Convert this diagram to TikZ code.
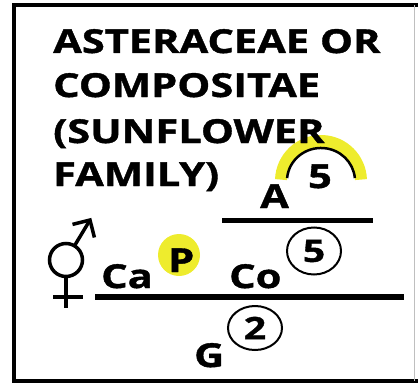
\documentclass[tikz,border=0pt]{standalone}
\usepackage{fontspec}
\setmainfont{Open Sans}[FakeStretch=1.26, FakeBold=1.2]
\usetikzlibrary{shapes.geometric}
\definecolor{hl}{RGB}{238,236,45}
\begin{document}
\begin{tikzpicture}[x=1pt,y=1pt,
  titletext/.style={font=\fontsize{33}{40}\selectfont\bfseries, anchor=base west, inner sep=0pt},
  ftext/.style={font=\fontsize{33}{40}\selectfont\bfseries, anchor=base west, inner sep=0pt},
  circnum/.style={ellipse, draw, line width=2pt, inner sep=0pt, font=\fontsize{31}{36}\selectfont\bfseries},
  fracbar/.style={line width=5pt},
  symb/.style={line width=3.5pt}
]
\useasboundingbox (0,0) rectangle (419,-385);
% frame
\draw[line width=4pt] (418,-5) -- (13.5,-5) -- (13.5,-381) -- (418,-381);
\draw[line width=1pt, black!25] (414,-5) -- (414,-381);
% highlight behind text
\draw[hl, line width=12pt] (281.0,-179.6) arc[start angle=178, end angle=2, radius=40];
% title
\node[titletext] (t1) at (53,-53) {ASTERACEAE OR};
\node[titletext] (t2) at (53,-97) {COMPOSITAE};
\node[titletext] (t3) at (53,-143) {(SUNFLOWER};
\node[titletext] (t4) at (53,-186) {FAMILY)};
% androecium
\draw[line width=2.5pt] (287.1,-178.1) arc[start angle=175, end angle=5, x radius=34, y radius=33];
\node[ftext] (a) at (260,-208) {A};
\node[ftext, anchor=base] (a5) at (320,-188) {5};
\coordinate (abarL) at (222,-220);
\coordinate (abarR) at (373,-220);
\draw[fracbar] (abarL) -- (abarR);
% hermaphrodite symbol
\coordinate (hc) at (66,-260);
\draw[symb] (hc) circle[radius=16.5];
\coordinate (hs) at (74.5,-245.8);
\coordinate (tip) at (90,-220);
\draw[symb] (hs) -- (tip);
\draw[symb, line join=miter] (72.5,-224.4) -- (tip) -- (94.4,-237.5);
\draw[symb] (66,-276.5) -- (66,-308);
\draw[symb] (53,-297) -- (83,-297);
% perianth
\node[ftext] (ca) at (101,-288) {Ca};
\fill[hl] (179,-255) circle[radius=21];
\node[ftext] (p) at (168,-272) {P};
\node[ftext] (co) at (229,-288) {Co};
\node[circnum, minimum width=54pt, minimum height=47pt] (c5) at (314,-251) {5};
\coordinate (barL) at (95,-297);
\coordinate (barR) at (404,-297);
\draw[fracbar, line width=6pt] (barL) -- (barR);
% gynoecium
\node[ftext] (g) at (194,-367) {G};
\node[circnum, minimum width=54pt, minimum height=44pt] (c2) at (255,-328) {2};
\end{tikzpicture}
\end{document}
